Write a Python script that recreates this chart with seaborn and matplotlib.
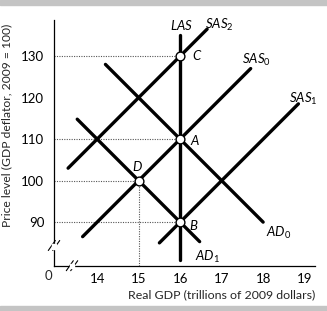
import matplotlib
matplotlib.use("Agg")
import matplotlib.pyplot as plt
import seaborn as sns
import pandas as pd
from matplotlib.patches import Rectangle

# ---- data ----
curve_names = ["LAS", "SAS2", "SAS0", "SAS1", "AD0", "AD1"]
curve_x = [[16.0, 16.0], [13.3, 16.65], [13.65, 17.7], [15.5, 18.85], [14.2, 18.0], [13.52, 16.47]]
curve_p = [[135.1, 80.9], [103.0, 136.5], [86.5, 127.0], [85.0, 118.5], [128.0, 90.0], [114.8, 85.3]]

point_names = ["C", "A", "D", "B"]
point_x = [16, 16, 15, 16]
point_p = [130, 110, 100, 90]

x_ticks = [14, 15, 16, 17, 18, 19]
y_ticks = [90, 100, 110, 120, 130]

x_label = "Real GDP (trillions of 2009 dollars)"
y_label = "Price level (GDP deflator, 2009 = 100)"

# ---- style ----
sns.set_style("white")
plt.rcParams["font.family"] = ["Lato", "DejaVu Sans"]
plt.rcParams["mathtext.fontset"] = "custom"
plt.rcParams["mathtext.rm"] = "Lato"
plt.rcParams["mathtext.it"] = "Lato:italic"

W, H = 327, 311
fig = plt.figure(figsize=(W / 100, H / 100), dpi=100)
fig.patches.append(Rectangle((0, 1 - 5 / H), 1, 5 / H, transform=fig.transFigure, color="#c4c4c4", zorder=0))
fig.patches.append(Rectangle((0, 0), 1, 5 / H, transform=fig.transFigure, color="#c4c4c4", zorder=0))

ax = fig.add_axes([54 / W, 45.3 / H, 261 / W, 245.7 / H])
xmin, xmax, ymin, ymax = 12.96, 19.25, 79.5, 138.7
ax.set_xlim(xmin, xmax)
ax.set_ylim(ymin, ymax)

rows = []
for n, xs, ps in zip(curve_names, curve_x, curve_p):
    for xv, pv in zip(xs, ps):
        rows.append({"curve": n, "gdp": xv, "price": pv})
df = pd.DataFrame(rows)
sns.lineplot(data=df, x="gdp", y="price", hue="curve", units="curve", estimator=None,
             palette={n: "black" for n in curve_names}, linewidth=2.4, sort=False,
             legend=False, ax=ax, zorder=3)

# dotted guides
for n, xv, pv in zip(point_names, point_x, point_p):
    ax.plot([xmin, xv], [pv, pv], linestyle=(0, (1, 1.2)), color="#555555", linewidth=0.8, zorder=2)
ax.plot([15, 15], [ymin, 100], linestyle=(0, (1, 1.2)), color="#555555", linewidth=0.8, zorder=2)

pts = pd.DataFrame({"gdp": point_x, "price": point_p})
sns.scatterplot(data=pts, x="gdp", y="price", s=40, color="white", edgecolor="black",
                linewidth=1.0, zorder=5, ax=ax)

# curve labels
lab_kw = dict(fontsize=9.5, color="black", ha="center", va="center")
ax.text(16.03, 137.6, r"$\mathit{LAS}$", **lab_kw, clip_on=False)
ax.text(16.95, 137.6, r"$\mathit{SAS}_2$", **lab_kw, clip_on=False)
ax.text(17.84, 129.0, r"$\mathit{SAS}_0$", **lab_kw)
ax.text(18.97, 119.6, r"$\mathit{SAS}_1$", **lab_kw)
ax.text(18.37, 87.5, r"$\mathit{AD}_0$", **lab_kw)
ax.text(16.67, 81.6, r"$\mathit{AD}_1$", **lab_kw)

pt_kw = dict(fontsize=9.5, color="black", ha="center", va="center", style="italic")
ax.text(16.39, 130.0, "C", **pt_kw)
ax.text(16.36, 109.6, "A", **pt_kw)
ax.text(16.33, 89.0, "B", **pt_kw)
ax.text(14.97, 103.2, "D", **pt_kw)

# axes styling
sns.despine(ax=ax)
for s in ["left", "bottom"]:
    ax.spines[s].set_linewidth(0.9)
    ax.spines[s].set_color("black")
ax.set_xticks(x_ticks)
ax.set_yticks(y_ticks)
ax.tick_params(axis="both", direction="in", length=3.5, width=0.8, labelsize=9.5, colors="black")
ax.tick_params(axis="x", pad=5)
ax.tick_params(axis="y", pad=7)
ax.set_xlabel("")
ax.set_ylabel("")

# "0" at origin
fig.text(48 / W, 1 - 276.5 / H, "0", fontsize=9.5, ha="center", va="center")

# axis break marks
def slash(xc, yc):
    for dx in (-2.2, 2.2):
        x0, y0 = xc + dx - 3.5, yc + 5
        x1, y1 = xc + dx + 3.5, yc - 5
        fig.add_artist(plt.Line2D([x0 / W, x1 / W], [1 - y0 / H, 1 - y1 / H], color="black", linewidth=0.8))

fig.add_artist(Rectangle((52 / W, 1 - 249 / H), 4 / W, 5 / H, transform=fig.transFigure, color="white", zorder=3))
fig.add_artist(Rectangle((70 / W, 1 - 267.7 / H), 4 / W, 4 / H, transform=fig.transFigure, color="white", zorder=3))
slash(54, 245.5)
slash(72, 265.7)

fig.text(315 / W, 1 - 295 / H, x_label, ha="right", va="center", fontsize=8.9)
fig.text(7 / W, 1 - 125 / H, y_label, ha="center", va="center", rotation=90, fontsize=8.7)

fig.savefig("out.png", dpi=100)
